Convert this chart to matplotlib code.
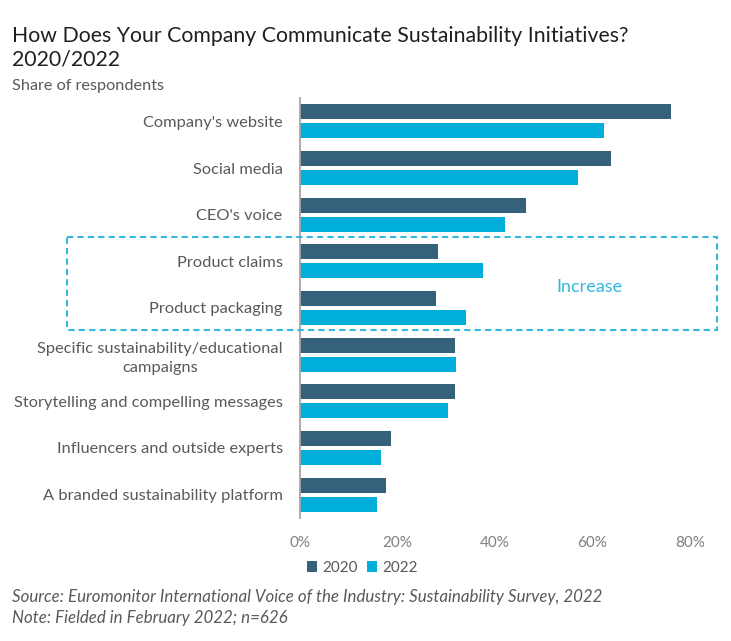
import matplotlib
matplotlib.use("Agg")
import matplotlib.pyplot as plt
import matplotlib.transforms as mtransforms
from matplotlib.patches import Rectangle
import numpy as np

plt.rcParams['font.family'] = ['Lato', 'DejaVu Sans']

categories = ["Company's website", "Social media", "CEO's voice", "Product claims",
              "Product packaging", "Specific sustainability/educational\ncampaigns",
              "Storytelling and compelling messages", "Influencers and outside experts",
              "A branded sustainability platform"]
values_2020 = [76.1, 63.8, 46.3, 28.4, 27.8, 31.7, 31.7, 18.6, 17.6]
values_2022 = [62.4, 57.1, 42.1, 37.6, 34.1, 32.0, 30.4, 16.6, 15.7]
xticks = [0, 20, 40, 60, 80]
xtick_labels = ["0%", "20%", "40%", "60%", "80%"]

c2020 = "#35627A"
c2022 = "#00AEDB"
box_col = "#33B8E0"

W, H = 731, 641
fig = plt.figure(figsize=(W / 100, H / 100), dpi=100)
ax = fig.add_axes([300 / W, 1 - 518 / H, (690 - 300) / W, 420 / H])

y = np.arange(len(categories))
off = 0.205
h = 0.32
ax.barh(y - off, values_2020, height=h, color=c2020, label="2020")
ax.barh(y + off, values_2022, height=h, color=c2022, label="2022")

ax.set_xlim(0, 80)
ax.set_ylim(len(categories) - 0.5, -0.5)
ax.set_yticks(y)
ax.set_yticklabels(categories, fontsize=11.8, color="#595959", ha="right")
for lab in ax.get_yticklabels():
    lab.set_multialignment("center")
    lab.set_linespacing(1.45)
ax.tick_params(axis="y", length=0, pad=12.5)
ax.set_xticks(xticks)
ax.set_xticklabels(xtick_labels, fontsize=11, color="#7F7F7F")
ax.tick_params(axis="x", length=0, pad=13)
for s in ["top", "right", "bottom"]:
    ax.spines[s].set_visible(False)
ax.spines["left"].set_color("#A6A6A6")
ax.spines["left"].set_linewidth(1.3)

# dashed highlight box (x in figure coords, y in data coords)
trans = mtransforms.blended_transform_factory(fig.transFigure, ax.transData)
rect = Rectangle((67 / W, 2.47), (717 - 67) / W, 2.0, transform=trans, fill=False,
                 edgecolor=box_col, linestyle=(0, (3, 2)), linewidth=1.5, clip_on=False)
fig.add_artist(rect)
ax.text(589 / W, 3.55, "Increase", transform=trans, fontsize=13, color=box_col,
        ha="center", va="center")

# titles
fig.text(12 / W, 1 - 48 / H, "How Does Your Company Communicate Sustainability Initiatives?\n2020/2022",
         fontsize=15.3, color="#1F1F1F", ha="left", va="center", linespacing=1.25)
fig.text(12 / W, 1 - 86 / H, "Share of respondents", fontsize=11.7, color="#595959",
         ha="left", va="center")

leg = fig.legend(loc="center", bbox_to_anchor=(362 / W, 1 - 568 / H), ncol=2, frameon=False,
                 fontsize=11, handlelength=0.7, handleheight=0.7, handletextpad=0.3,
                 columnspacing=0.6)
for t in leg.get_texts():
    t.set_color("#595959")

fig.text(12 / W, 1 - 597 / H,
         "Source: Euromonitor International Voice of the Industry: Sustainability Survey, 2022",
         fontsize=12.2, style="italic", color="#595959", ha="left", va="center")
fig.text(12 / W, 1 - 618 / H, "Note: Fielded in February 2022; n=626",
         fontsize=12.2, style="italic", color="#595959", ha="left", va="center")

fig.savefig("out.png", dpi=100)
